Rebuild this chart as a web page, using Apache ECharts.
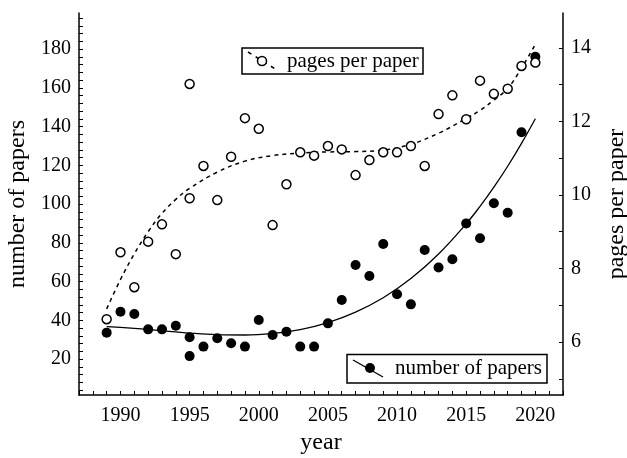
<!DOCTYPE html>
<html>
<head>
<meta charset="utf-8">
<script src="https://cdn.jsdelivr.net/npm/echarts@6/dist/echarts.min.js"></script>
<style>
  html, body { margin: 0; padding: 0; background: #fff; }
  #box { width: 627px; height: 458px; }
</style>
</head>
<body>
<div id="box"></div>
<script>
// scatter data (1995 appears twice)
const years = [1989, 1990, 1991, 1992, 1993, 1994, 1995, 1995, 1996, 1997, 1998, 1999, 2000,
  2001, 2002, 2003, 2004, 2005, 2006, 2007, 2008, 2009, 2010, 2011, 2012, 2013, 2014,
  2015, 2016, 2017, 2018, 2019, 2020];
const papers = [33.6, 44.4, 43.2, 35.3, 35.3, 37.2, 31.2, 21.5, 26.4, 30.7, 28.1, 26.4, 40.1,
  32.4, 34.1, 26.4, 26.4, 38.4, 50.5, 68.5, 62.8, 79.4, 53.4, 48.2, 76.3, 67.2, 71.5,
  90.0, 82.3, 100.4, 95.5, 137.0, 176.0];
const pages = [6.62, 8.44, 7.49, 8.73, 9.20, 8.39, 13.02, 9.91, 10.79, 9.86, 11.04, 12.09, 11.80,
  9.18, 10.29, 11.16, 11.07, 11.33, 11.24, 10.54, 10.95, 11.16, 11.16, 11.33, 10.79, 12.20, 12.71,
  12.06, 13.11, 12.75, 12.89, 13.51, 13.60];

// fitted trend curves
const trendYears = [1989, 1990, 1991, 1992, 1993, 1994, 1995, 1997, 1999, 2001, 2003, 2005,
  2007, 2009, 2011, 2013, 2015, 2016, 2017, 2018, 2019, 2020];
const trendPapers = [36.7, 36.3, 35.8, 35.2, 34.6, 34.0, 33.4, 32.6, 32.4, 33.2, 35.2, 38.8,
  44.2, 51.6, 61.5, 74.2, 89.8, 98.8, 108.7, 119.5, 131.3, 144.0];
const trendPages = [6.9, 7.7, 8.4, 9.0, 9.5, 9.88, 10.18, 10.62, 10.92, 11.07, 11.14, 11.17,
  11.18, 11.22, 11.38, 11.68, 12.08, 12.3, 12.58, 12.9, 13.45, 14.1];

const xLabels = [1990, 1995, 2000, 2005, 2010, 2015, 2020];
const leftLabels = [20, 40, 60, 80, 100, 120, 140, 160, 180];
const rightLabels = [6, 8, 10, 12, 14];

const pair = (xs, ys) => xs.map((x, i) => [x, ys[i]]);
const steps = (from, to, step) => {
  const out = [];
  for (let v = from; v <= to + 1e-9; v += step) out.push(+v.toFixed(4));
  return out;
};

const serif = "'Liberation Serif', 'DejaVu Serif', serif";
const black = { color: '#000', width: 1.5 };
const tickFont = { color: '#000', fontFamily: serif, fontSize: 20 };
const nameFont = { color: '#000', fontFamily: serif, fontSize: 24 };
const legendFont = { fill: '#000', font: "21px 'Liberation Serif', serif" };

const myChart = echarts.init(document.getElementById('box'));
const option = {
  animation: false,
  backgroundColor: '#fff',
  grid: { left: 79, right: 64, top: 13, bottom: 63, outerBoundsMode: 'none' },
  xAxis: {
    type: 'value',
    min: 1987,
    max: 2022,
    name: 'year',
    nameLocation: 'middle',
    nameGap: 36,
    nameTextStyle: nameFont,
    axisLine: { lineStyle: black },
    axisTick: { inside: true, length: 4, customValues: steps(1987, 2022, 1), lineStyle: { color: '#000' } },
    axisLabel: { customValues: xLabels, margin: 11, formatter: v => String(v), ...tickFont },
    splitLine: { show: false }
  },
  yAxis: [
    {
      type: 'value',
      position: 'left',
      min: 1.42,
      max: 198.6,
      name: 'number of papers',
      nameLocation: 'middle',
      nameRotate: 90,
      nameGap: 48,
      nameTextStyle: nameFont,
      axisLine: { show: true, lineStyle: black },
      axisTick: { show: true, inside: true, length: 4, customValues: steps(4, 196, 4), lineStyle: { color: '#000' } },
      axisLabel: { customValues: leftLabels, margin: 8, ...tickFont },
      splitLine: { show: false }
    },
    {
      type: 'value',
      position: 'right',
      min: 4.558,
      max: 14.95,
      name: 'pages per paper',
      nameLocation: 'middle',
      nameRotate: 90,
      nameGap: 42,
      nameTextStyle: nameFont,
      axisLine: { show: true, lineStyle: black },
      axisTick: { show: true, inside: true, length: 4, customValues: steps(5, 14, 1), lineStyle: { color: '#000' } },
      axisLabel: { customValues: rightLabels, margin: 8, ...tickFont },
      splitLine: { show: false }
    }
  ],
  series: [
    {
      name: 'papers trend',
      type: 'line',
      yAxisIndex: 0,
      smooth: 0.4,
      showSymbol: false,
      data: pair(trendYears, trendPapers),
      lineStyle: { color: '#000', width: 1.3 },
      z: 2
    },
    {
      name: 'pages trend',
      type: 'line',
      yAxisIndex: 1,
      smooth: 0.4,
      showSymbol: false,
      data: pair(trendYears, trendPages),
      lineStyle: { color: '#000', width: 1.5, type: [4, 4] },
      z: 2
    },
    {
      name: 'number of papers',
      type: 'scatter',
      yAxisIndex: 0,
      symbol: 'circle',
      symbolSize: 10,
      data: pair(years, papers),
      itemStyle: { color: '#000', opacity: 1 },
      z: 3
    },
    {
      name: 'pages per paper',
      type: 'scatter',
      yAxisIndex: 1,
      symbol: 'circle',
      symbolSize: 9,
      data: pair(years, pages),
      itemStyle: { color: '#fff', borderColor: '#000', borderWidth: 1.5, opacity: 1 },
      z: 4
    }
  ],
  graphic: [
    // legend: pages per paper
    { type: 'rect', z: 10, shape: { x: 242, y: 48, width: 181, height: 26 },
      style: { fill: '#fff', stroke: '#000', lineWidth: 1.5 } },
    { type: 'line', z: 11, shape: { x1: 248, y1: 52, x2: 277, y2: 70 },
      style: { stroke: '#000', lineWidth: 1.5, lineDash: [4, 5] } },
    { type: 'circle', z: 12, shape: { cx: 262, cy: 61, r: 4.5 },
      style: { fill: '#fff', stroke: '#000', lineWidth: 1.5 } },
    { type: 'text', z: 12, x: 287, y: 61,
      style: { text: 'pages per paper', ...legendFont, verticalAlign: 'middle' } },
    // legend: number of papers
    { type: 'rect', z: 10, shape: { x: 347, y: 354.5, width: 200, height: 28.5 },
      style: { fill: '#fff', stroke: '#000', lineWidth: 1.5 } },
    { type: 'line', z: 11, shape: { x1: 353, y1: 360, x2: 383, y2: 377 },
      style: { stroke: '#000', lineWidth: 1.3 } },
    { type: 'circle', z: 12, shape: { cx: 370, cy: 368, r: 5 },
      style: { fill: '#000' } },
    { type: 'text', z: 12, x: 395, y: 368.5,
      style: { text: 'number of papers', ...legendFont, verticalAlign: 'middle' } }
  ]
};
myChart.setOption(option);
</script>
</body>
</html>
